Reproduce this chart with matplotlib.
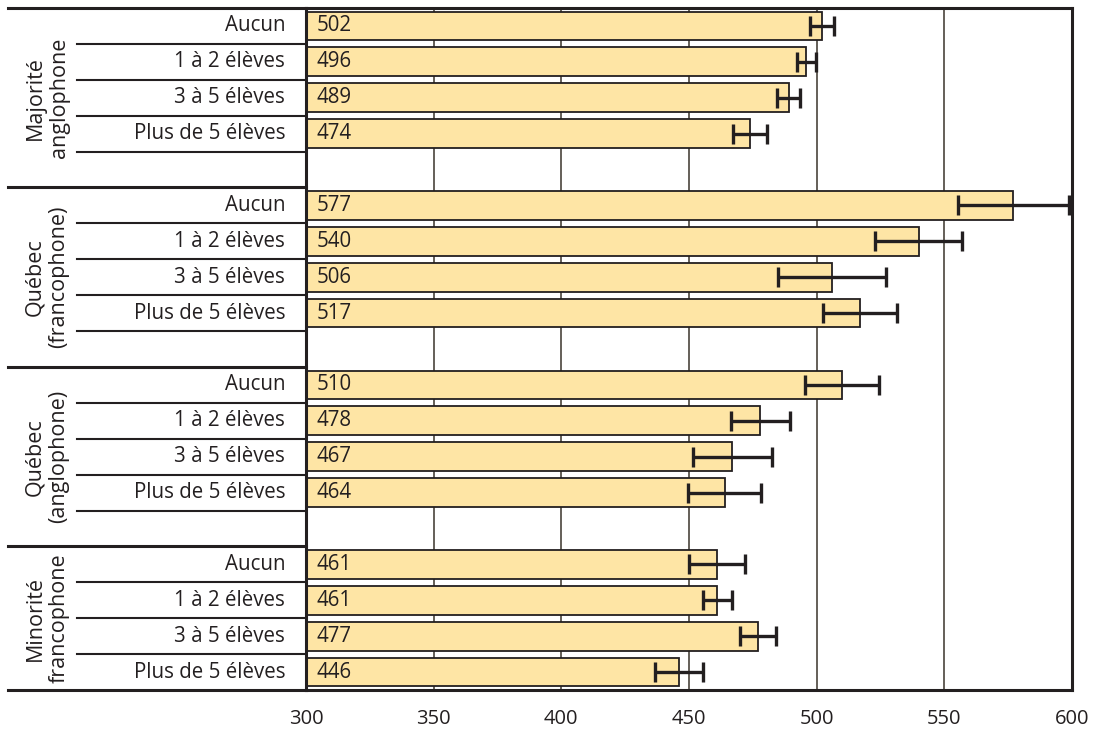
import numpy as np
import matplotlib
matplotlib.use("Agg")
import matplotlib.pyplot as plt
from matplotlib.lines import Line2D
from matplotlib.transforms import blended_transform_factory

plt.rcParams['font.family'] = ['Open Sans', 'DejaVu Sans']

# data
groups = ["Majorité\nanglophone", "Québec\n(francophone)", "Québec\n(anglophone)", "Minorité\nfrancophone"]
categories = ["Aucun", "1 à 2 élèves", "3 à 5 élèves", "Plus de 5 élèves"]
scores = [[502, 496, 489, 474],
          [577, 540, 506, 517],
          [510, 478, 467, 464],
          [461, 461, 477, 446]]
errors = [[4.6, 3.8, 4.4, 6.7],
          [21.7, 17.0, 21.0, 14.4],
          [14.5, 11.7, 15.5, 14.2],
          [11.1, 5.7, 6.9, 9.3]]
xticks = [300, 350, 400, 450, 500, 550, 600]

dark = "#231f20"
barcol = "#fee5a5"

fig = plt.figure(figsize=(11.05, 7.32), dpi=100)
ax = fig.add_axes([306/1105, 1-690/732, (1072-306)/1105, (690-8)/732])

# row positions: 5 rows per group (last row empty), last group 4 rows
ypos = []
for g in range(len(groups)):
    ypos.append([g*5 + i for i in range(len(categories))])
nrows = 5*(len(groups)-1) + len(categories)

for g in range(len(groups)):
    ax.barh(ypos[g], np.array(scores[g]) - 300, left=300, height=0.8,
            color=barcol, edgecolor=dark, linewidth=1.3, zorder=2)
    ax.errorbar(scores[g], ypos[g], xerr=errors[g], fmt='none', ecolor=dark,
                elinewidth=2.4, capsize=7, capthick=2.4, zorder=3)
    for y, v in zip(ypos[g], scores[g]):
        ax.text(304, y, str(v), ha='left', va='center', fontsize=14.8, color=dark, zorder=4)

ax.set_xlim(300, 600)
ax.set_ylim(nrows - 0.5, -0.5)
for x in xticks[1:-1]:
    ax.axvline(x, color="#4a443c", linewidth=1.2, zorder=1)

ax.set_yticks([])
ax.set_xticks(xticks)
ax.set_xticklabels([str(t) for t in xticks], fontsize=14.5, color=dark)
ax.tick_params(axis='x', length=0, pad=14)
for s in ax.spines.values():
    s.set_linewidth(2.2)
    s.set_color(dark)

# label area lines
tr = blended_transform_factory(fig.transFigure, ax.transData)
x0 = 306/1105
for g in range(len(groups)):
    start = g*5
    for i in range(len(categories) if g < len(groups)-1 else len(categories)-1):
        y = start + i + 0.5
        fig.add_artist(Line2D([77/1105, x0], [y, y], transform=tr, color=dark, linewidth=1.5))
    top = start - 0.5
    fig.add_artist(Line2D([8/1105, x0], [top, top], transform=tr, color=dark, linewidth=2.2))
    for y, c in zip(ypos[g], categories):
        fig.text(285/1105, 0, c, transform=tr, ha='right', va='center', fontsize=14.8, color=dark).set_y(y)
    nr = 5 if g < len(groups)-1 else len(categories)
    fig.text(47/1105, 0, groups[g], transform=tr, rotation=90, ha='center', va='center',
             fontsize=15.5, color=dark, linespacing=1.2, multialignment='center').set_y(start - 0.5 + nr/2)
fig.add_artist(Line2D([8/1105, x0], [nrows - 0.5]*2, transform=tr, color=dark, linewidth=2.2))

fig.savefig("out.png", dpi=100)
